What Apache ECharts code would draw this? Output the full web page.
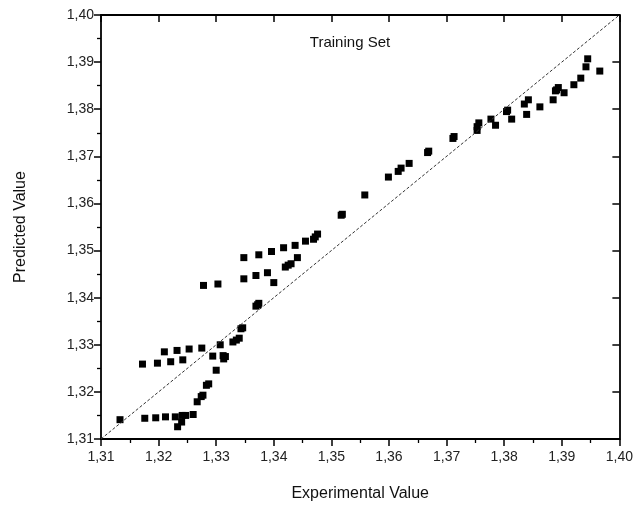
<!DOCTYPE html>
<html>
<head>
<meta charset="utf-8">
<script src="https://cdn.jsdelivr.net/npm/echarts@6/dist/echarts.min.js"></script>
<style>
html,body{margin:0;padding:0;background:#fff;}
#chart{width:636px;height:508px;}
</style>
</head>
<body>
<div id="chart"></div>
<script>
// Experimental (x) values of the training set
var experimental = [
1.3133,1.3176,1.3195,1.3212,1.3229,1.3241,1.3247,1.3260,1.3240,1.3233,
1.3267,1.3274,1.3277,1.3283,1.3287,1.3300,1.3294,1.3312,1.3316,1.3313,
1.3172,1.3198,1.3221,1.3242,1.3210,1.3232,1.3253,1.3275,1.3307,1.3329,
1.3335,1.3340,1.3343,1.3346,1.3369,1.3374,1.3372,1.3278,1.3303,1.3348,
1.3369,1.3389,1.3400,1.3348,1.3374,1.3396,1.3417,1.3437,1.3455,1.3441,
1.3430,1.3425,1.3420,1.3469,1.3472,1.3476,1.3517,1.3519,1.3558,1.3599,
1.3616,1.3621,1.3635,1.3667,1.3669,1.3711,1.3713,1.3753,1.3753,1.3756,
1.3777,1.3785,1.3804,1.3806,1.3813,1.3835,1.3842,1.3839,1.3862,1.3885,
1.3889,1.3891,1.3894,1.3904,1.3921,1.3933,1.3942,1.3945,1.3966
];
// Predicted (y) values of the training set
var predicted = [
1.3141,1.3144,1.3145,1.3147,1.3147,1.3150,1.3150,1.3152,1.3136,1.3126,
1.3179,1.3190,1.3193,1.3214,1.3217,1.3246,1.3276,1.3277,1.3275,1.3270,
1.3259,1.3261,1.3264,1.3268,1.3285,1.3288,1.3291,1.3293,1.3300,1.3306,
1.3310,1.3314,1.3334,1.3336,1.3382,1.3388,1.3385,1.3426,1.3429,1.3440,
1.3447,1.3453,1.3432,1.3485,1.3491,1.3498,1.3506,1.3511,1.3520,1.3485,
1.3472,1.3469,1.3465,1.3524,1.3529,1.3535,1.3575,1.3577,1.3618,1.3656,
1.3668,1.3675,1.3685,1.3708,1.3711,1.3738,1.3742,1.3755,1.3763,1.3771,
1.3779,1.3766,1.3795,1.3798,1.3779,1.3811,1.3820,1.3789,1.3805,1.3820,
1.3839,1.3841,1.3846,1.3835,1.3852,1.3866,1.3890,1.3907,1.3881
];
// Ideal line y = x
var idealLine = [1.31, 1.40];
var axisMin = 1.31, axisMax = 1.40, axisStep = 0.01;

var pts = experimental.map(function(x, i){ return [x, predicted[i]]; });
var linePts = idealLine.map(function(v){ return [v, v]; });

function fmt(v){ return v.toFixed(2).replace('.', ','); }

var FONT = 'Liberation Sans, Arial, sans-serif';
function mainAxis(pos, name, extra){
  var a = {
    type: 'value', position: pos, min: axisMin, max: axisMax, interval: axisStep,
    name: name, nameLocation: 'middle',
    nameTextStyle: {fontFamily: FONT, fontSize: 16, color: '#111'},
    axisLine: {show: true, onZero: false, lineStyle: {color: '#000', width: 1.8}},
    axisTick: {show: true, inside: false, length: 7, lineStyle: {color: '#000', width: 1.5}},
    minorTick: {show: true, splitNumber: 2, length: 4, lineStyle: {color: '#000', width: 1.3}},
    splitLine: {show: false}
  };
  for (var k in extra) a[k] = extra[k];
  return a;
}
function mirrorAxis(pos){
  return {
    type: 'value', position: pos, min: axisMin, max: axisMax, interval: axisStep,
    axisLine: {show: true, onZero: false, lineStyle: {color: '#000', width: 1.8}},
    axisTick: {show: true, inside: true, length: 7, lineStyle: {color: '#000', width: 1.5}},
    minorTick: {show: false},
    axisLabel: {show: false},
    splitLine: {show: false}
  };
}

var chart = echarts.init(document.getElementById('chart'), null, {renderer: 'canvas'});
chart.setOption({
  animation: false,
  backgroundColor: '#fff',
  title: {
    text: 'Training Set', left: 345, top: 30, textAlign: 'center',
    textStyle: {fontFamily: FONT, fontSize: 15, fontWeight: 'normal', color: '#111'}
  },
  grid: {left: 101, right: 15, top: 15, bottom: 69},
  xAxis: [
    mainAxis('bottom', 'Experimental Value', {nameGap: 47, axisLabel: {formatter: fmt, fontFamily: FONT, fontSize: 14, color: '#222', margin: 11}}),
    mirrorAxis('top')
  ],
  yAxis: [
    mainAxis('left', 'Predicted Value', {nameGap: 72, axisLabel: {formatter: fmt, fontFamily: FONT, fontSize: 14, color: '#222', margin: 7}}),
    mirrorAxis('right')
  ],
  series: [
    {
      type: 'line', data: linePts, symbol: 'none', silent: true,
      lineStyle: {color: '#333', width: 1, type: [3, 2]}
    },
    {
      type: 'scatter', data: pts, symbol: 'rect', symbolSize: 7,
      itemStyle: {color: '#000', opacity: 1}
    }
  ]
});
</script>
</body>
</html>
